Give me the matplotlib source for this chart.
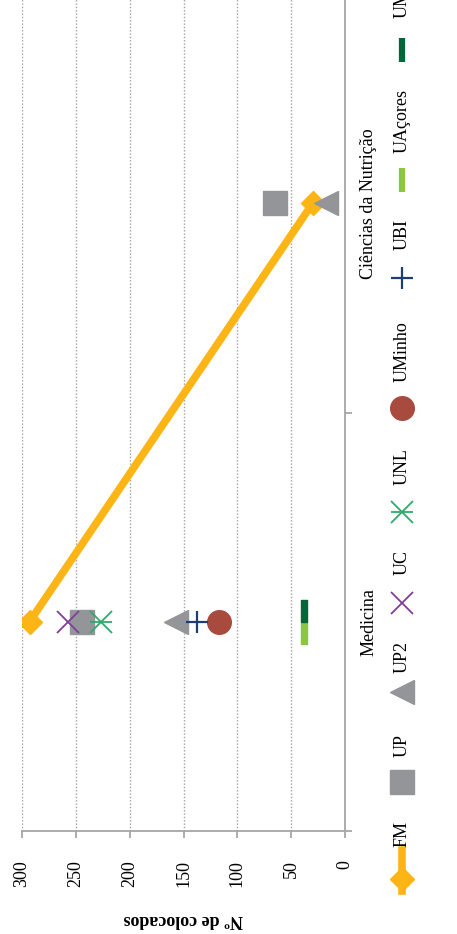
import numpy as np
import matplotlib.pyplot as plt
from matplotlib.path import Path

plt.rcParams['font.family'] = ['Liberation Serif', 'DejaVu Serif']
plt.rcParams['font.size'] = 13

# data
cursos = ["Medicina", "Ciências da Nutrição"]
fm = [293, 30]
up = [244, 65]
up2 = [157, 18]
uc = [257, np.nan]
unl = [227, np.nan]
uminho = [117, np.nan]
ubi = [137, np.nan]
uacores = [38, np.nan]
umadeira = [38, np.nan]
value_ticks = [0, 50, 100, 150, 200, 250, 300]
legend_names = ["FM", "UP", "UP2", "UC", "UNL", "UMinho", "UBI", "UAçores", "UMadeira"]

# half-bar markers (the two dashes sit on top of each other)
top_half = Path([(-0.13, 0), (0.13, 0), (0.13, 1), (-0.13, 1), (-0.13, 0)])
bot_half = Path([(-0.13, 0), (0.13, 0), (0.13, -1), (-0.13, -1), (-0.13, 0)])

styles = [
    dict(color='#FDB515', lw=5.5, marker='D', ms=12),
    dict(color='#939598', ls='none', marker='s', ms=17),
    dict(color='#939598', ls='none', marker='<', ms=17),
    dict(color='#7F3F98', ls='none', marker='x', ms=16, mew=1.3),
    dict(color='#2EAA6A', ls='none', marker='x', ms=16, mew=1.3),
    dict(color='#A84B3E', ls='none', marker='o', ms=17),
    dict(color='#1C3F6E', ls='none', marker='+', ms=16, mew=1.6),
    dict(color='#8CC63F', ls='none', marker=bot_half, ms=31),
    dict(color='#006838', ls='none', marker=top_half, ms=31),
]
series = [fm, up, up2, uc, unl, uminho, ubi, uacores, umadeira]

W, H = 457, 934
fig = plt.figure(figsize=(W / 100, H / 100), dpi=100)
ax = fig.add_axes([22 / W, (H - 831) / H, 323 / W, 837 / H])

pos = np.arange(len(cursos))
for vals, st in zip(series, styles):
    ax.plot(vals, pos, **st)
    if vals is unl:
        ax.plot(vals, pos, color=st['color'], ls='none', marker='_', ms=16, mew=1.3)

ax.set_xlim(300, 0)
ax.set_ylim(-0.5, 1.5)
ax.set_xticks(value_ticks)
ax.set_axisbelow(True)
ax.xaxis.grid(True, linestyle=(0, (1, 1.4)), color='#A0A0A0', lw=1)

for s in ['top', 'left']:
    ax.spines[s].set_visible(False)
for s in ['right', 'bottom']:
    ax.spines[s].set_color('#A6A6A6')
    ax.spines[s].set_linewidth(1.3)

ax.tick_params(axis='x', direction='out', length=5, color='#A6A6A6', width=1.3,
               labelrotation=90, pad=16)
ax.yaxis.tick_right()
ax.set_yticks(pos)
ax.set_yticklabels(cursos)
ax.set_yticks([-0.5, 0.5, 1.5], minor=True)
ax.tick_params(axis='y', which='major', length=0, pad=11, labelrotation=90)
ax.tick_params(axis='y', which='minor', length=5, direction='out', color='#A6A6A6', width=1.3)
for lab in ax.get_yticklabels():
    lab.set_va('center')

ax.set_xlabel("Nº de colocados", fontweight='bold', rotation=180, labelpad=17)

# legend drawn sideways along the right edge
leg = fig.add_axes([0, 0, 1, 1])
leg.set_xlim(0, W)
leg.set_ylim(H, 0)
leg.axis('off')
mark_y = [879, 782, 692, 603, 512, 408, 278, 180, 50]
text_y = [847, 757, 673, 575, 485, 382, 250, 153, 18]
lx = 402
for i, (name, st) in enumerate(zip(legend_names, styles)):
    if i == 0:
        leg.plot([lx, lx], [mark_y[i] - 29, mark_y[i] + 12], color=st['color'], lw=st['lw'])
        leg.plot([lx], [mark_y[i]], color=st['color'], marker='D', ms=12)
    elif i >= 7:
        leg.plot([lx], [mark_y[i]], color=st['color'], marker='|', ms=17, mew=4.5)
    else:
        leg.plot([lx], [mark_y[i]], **st)
        if i == 4:
            leg.plot([lx], [mark_y[i]], color=st['color'], marker='_', ms=16, mew=1.3)
    leg.text(lx, text_y[i], name, rotation=90, ha='center', va='bottom', fontsize=13)

fig.savefig("out.png", dpi=100)
